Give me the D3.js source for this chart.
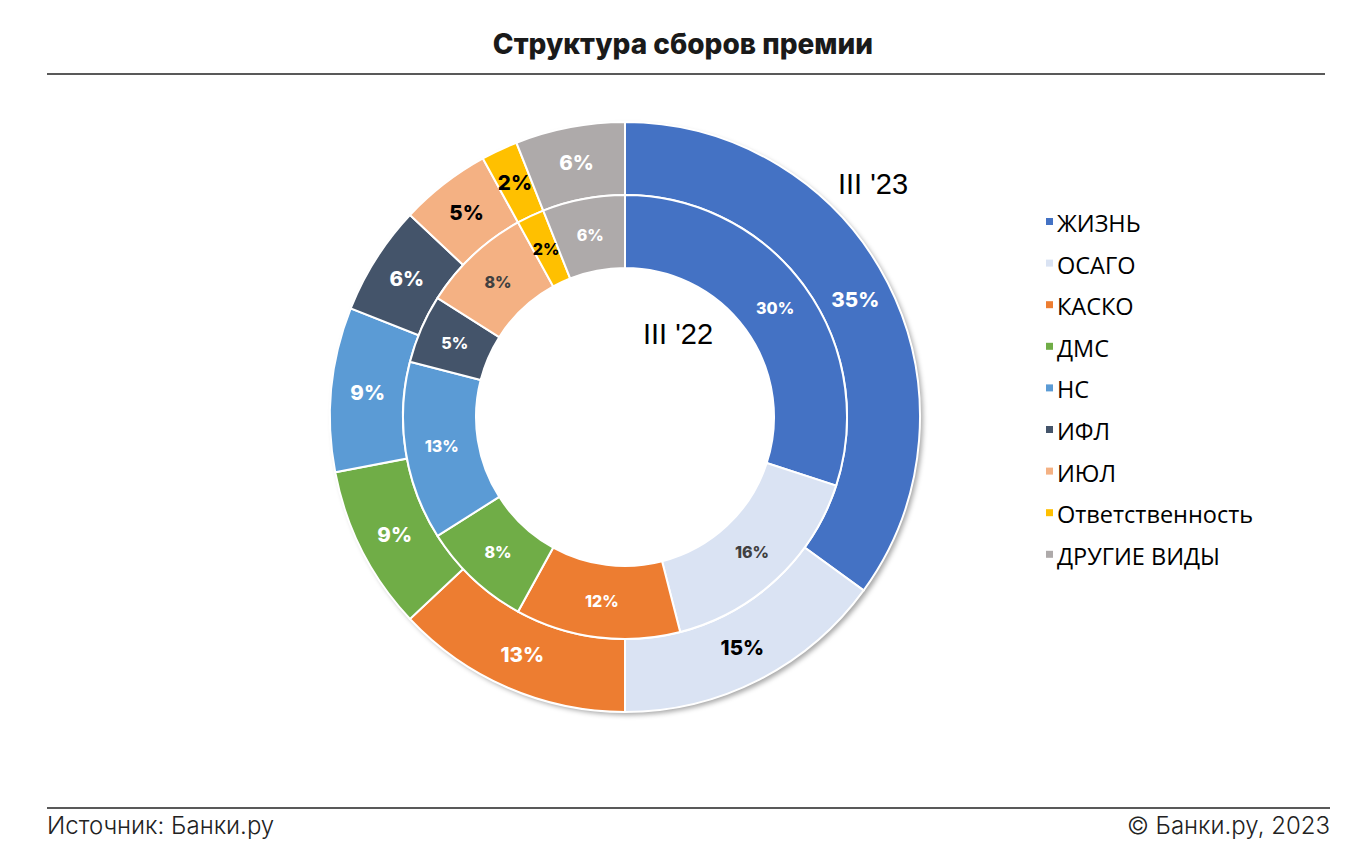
<!DOCTYPE html>
<html>
<head>
<meta charset="utf-8">
<script src="https://cdnjs.cloudflare.com/ajax/libs/d3/7.8.5/d3.min.js"></script>
<style>
  body { margin: 0; background: #fff; }
  svg { display: block; }
  .title { font-family: Inter, sans-serif; font-weight: 800; font-size: 28px; fill: #1a1a1a; }
  .foot { font-family: Inter, sans-serif; font-weight: 300; font-size: 24px; fill: #222; }
  .legend text { font-family: "Open Sans", Arial, sans-serif; font-size: 23.5px; fill: #000; }
  .ringname { font-family: "Liberation Sans", Arial, sans-serif; font-size: 29px; fill: #000; }
  .lbl { font-family: Inter, sans-serif; font-weight: 800; }
</style>
</head>
<body>
<div id="vis"></div>
<script>
// Categories and values (percent of premium)
var categories = ['ЖИЗНЬ', 'ОСАГО', 'КАСКО', 'ДМС', 'НС', 'ИФЛ', 'ИЮЛ', 'Ответственность', 'ДРУГИЕ ВИДЫ'];
var values2023 = [35, 15, 13, 9, 9, 6, 5, 2, 6];
var values2022 = [30, 16, 12, 8, 13, 5, 8, 2, 6];
var colors = ['#4472C4', '#DAE3F3', '#ED7D31', '#70AD47', '#5B9BD5', '#44546A', '#F4B183', '#FFC000', '#AEAAAA'];
var outerLabelColors = ['#fff', '#000', '#fff', '#fff', '#fff', '#fff', '#000', '#000', '#fff'];
var innerLabelColors = ['#fff', '#404040', '#fff', '#fff', '#fff', '#fff', '#404040', '#000', '#fff'];

var width = 1366, height = 850;
var cx = 625, cy = 417;

var svg = d3.select('#vis').append('svg')
    .attr('width', width)
    .attr('height', height);

// drop shadow for the outer ring
var defs = svg.append('defs');
var f = defs.append('filter').attr('id', 'shadow')
    .attr('x', '-10%').attr('y', '-10%').attr('width', '120%').attr('height', '120%');
f.append('feDropShadow').attr('dx', 3).attr('dy', 3).attr('stdDeviation', 2.5)
    .attr('flood-color', '#000').attr('flood-opacity', 0.35);

// title and rules
svg.append('text').attr('class', 'title')
    .attr('x', 683).attr('y', 54).attr('text-anchor', 'middle')
    .text('Структура сборов премии');
svg.append('line').attr('x1', 47).attr('x2', 1325).attr('y1', 74).attr('y2', 74)
    .attr('stroke', '#222').attr('stroke-width', 1.5);
svg.append('line').attr('x1', 47).attr('x2', 1330).attr('y1', 808).attr('y2', 808)
    .attr('stroke', '#222').attr('stroke-width', 1.5);
svg.append('text').attr('class', 'foot').attr('x', 47).attr('y', 834).text('Источник: Банки.ру');
svg.append('text').attr('class', 'foot').attr('x', 1330).attr('y', 834)
    .attr('text-anchor', 'end').text('© Банки.ру, 2023');

var pie = d3.pie().sort(null).value(function(d) { return d; });

var rings = [
    { values: values2023, inner: 222, outer: 295, labelColors: outerLabelColors, fontSize: 20.5, shadow: true },
    { values: values2022, inner: 149, outer: 222, labelColors: innerLabelColors, fontSize: 16, shadow: false }
];

var g = svg.append('g').attr('transform', 'translate(' + cx + ',' + cy + ')');

rings.forEach(function(ring) {
    var arc = d3.arc().innerRadius(ring.inner).outerRadius(ring.outer);
    var arcs = pie(ring.values);
    var rg = g.append('g');
    if (ring.shadow) {
        rg.append('path')
            .attr('d', d3.arc().innerRadius(ring.inner).outerRadius(ring.outer)({ startAngle: 0, endAngle: 2 * Math.PI }))
            .attr('fill', '#fff')
            .attr('filter', 'url(#shadow)');
    }
    rg.selectAll('path.slice').data(arcs).enter().append('path')
        .attr('class', 'slice')
        .attr('d', arc)
        .attr('fill', function(d, i) { return colors[i]; })
        .attr('stroke', '#fff')
        .attr('stroke-width', 2);
    rg.selectAll('text').data(arcs).enter().append('text')
        .attr('class', 'lbl')
        .attr('transform', function(d) { return 'translate(' + arc.centroid(d) + ')'; })
        .attr('text-anchor', 'middle')
        .attr('dy', '0.36em')
        .attr('font-size', ring.fontSize)
        .attr('fill', function(d, i) { return ring.labelColors[i]; })
        .text(function(d) { return d.data + '%'; });
});

svg.append('text').attr('class', 'ringname').attr('x', 838).attr('y', 194).text("III '23");
svg.append('text').attr('class', 'ringname').attr('x', 643).attr('y', 344).text("III '22");

// legend
var legend = svg.append('g').attr('class', 'legend');
var items = legend.selectAll('g').data(categories).enter().append('g')
    .attr('transform', function(d, i) { return 'translate(1046,' + (224 + i * 41.6) + ')'; });
items.append('rect').attr('x', 0).attr('y', -6).attr('width', 7).attr('height', 7)
    .attr('fill', function(d, i) { return colors[i]; });
items.append('text').attr('x', 11).attr('y', 8).text(function(d) { return d; });
</script>
</body>
</html>
